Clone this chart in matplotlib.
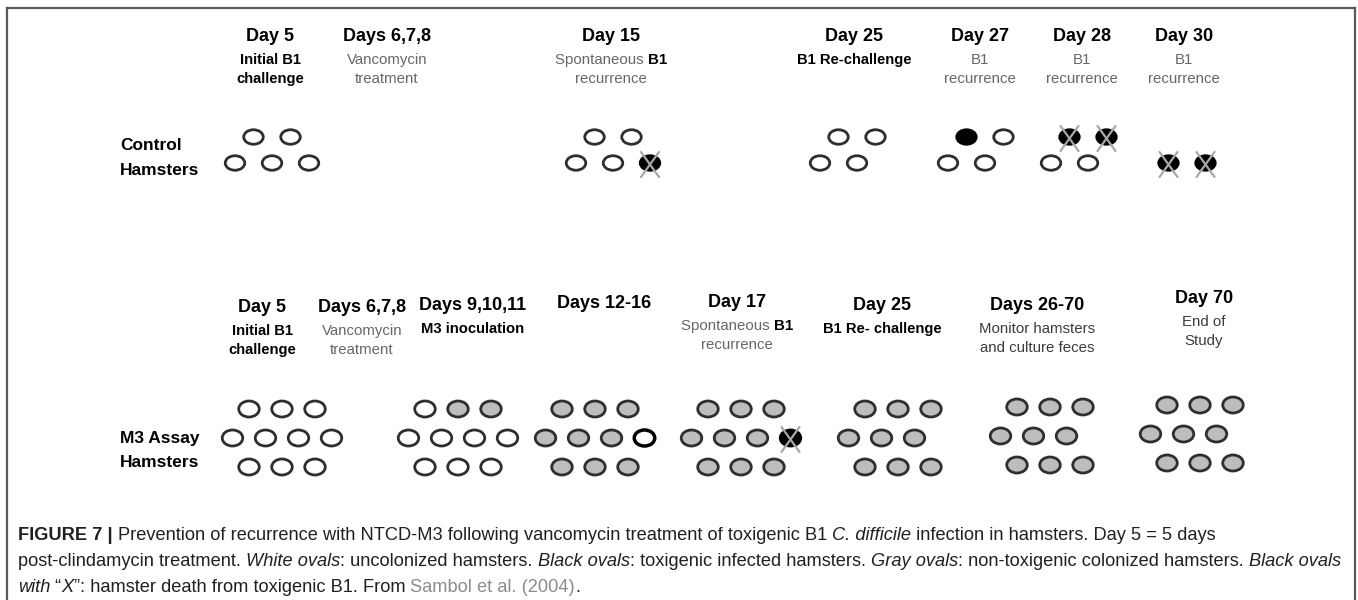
import matplotlib
matplotlib.use("Agg")
import matplotlib.pyplot as plt
from matplotlib.patches import Ellipse
from matplotlib import font_manager
from matplotlib.font_manager import FontProperties

# ---- diagram content -------------------------------------------------------
# hamster states: w = uncolonized, g = non-toxigenic colonized, b = toxigenic
# infected, d = died of toxigenic B1, W = white with heavy rim, None = gap
control_titles = ["Day 5", "Days 6,7,8", "Day 15", "Day 25", "Day 27", "Day 28", "Day 30"]
control_notes = [
    [[("Initial B1", "k")], [("challenge", "k")]],
    [[("Vancomycin", "g")], [("treatment", "g")]],
    [[("Spontaneous ", "g"), ("B1", "k")], [("recurrence", "g")]],
    [[("B1 Re-challenge", "k")]],
    [[("B1", "g")], [("recurrence", "g")]],
    [[("B1", "g")], [("recurrence", "g")]],
    [[("B1", "g")], [("recurrence", "g")]],
]
control_herds = [
    [["w", "w"], ["w", "w", "w"]],
    None,
    [["w", "w"], ["w", "w", "d"]],
    [["w", "w"], ["w", "w", None]],
    [["b", "w"], ["w", "w", None]],
    [["d", "d"], ["w", "w", None]],
    [[], ["d", "d"]],
]

m3_titles = ["Day 5", "Days 6,7,8", "Days 9,10,11", "Days 12-16", "Day 17",
             "Day 25", "Days 26-70", "Day 70"]
m3_notes = [
    [[("Initial B1", "k")], [("challenge", "k")]],
    [[("Vancomycin", "g")], [("treatment", "g")]],
    [[("M3 inoculation", "k")]],
    [],
    [[("Spontaneous ", "g"), ("B1", "k")], [("recurrence", "g")]],
    [[("B1 Re- challenge", "k")]],
    [[("Monitor hamsters", "d")], [("and culture feces", "d")]],
    [[("End of", "d")], [("Study", "d")]],
]
m3_herds = [
    [["w", "w", "w"], ["w", "w", "w", "w"], ["w", "w", "w"]],
    None,
    [["w", "g", "g"], ["w", "w", "w", "w"], ["w", "w", "w"]],
    [["g", "g", "g"], ["g", "g", "g", "W"], ["g", "g", "g"]],
    [["g", "g", "g"], ["g", "g", "g", "d"], ["g", "g", "g"]],
    [["g", "g", "g"], ["g", "g", "g", None], ["g", "g", "g"]],
    [["g", "g", "g"], ["g", "g", "g", None], ["g", "g", "g"]],
    [["g", "g", "g"], ["g", "g", "g", None], ["g", "g", "g"]],
]

caption = [
    [("FIGURE 7 | ", "b"),
     ("Prevention of recurrence with NTCD-M3 following vancomycin treatment of toxigenic B1 ", "n"),
     ("C. difficile", "i"), (" infection in hamsters. Day 5 = 5 days", "n")],
    [("post-clindamycin treatment. ", "n"), ("White ovals", "i"),
     (": uncolonized hamsters. ", "n"), ("Black ovals", "i"),
     (": toxigenic infected hamsters. ", "n"), ("Gray ovals", "i"),
     (": non-toxigenic colonized hamsters. ", "n"), ("Black ovals", "i")],
    [("with", "i"), (" \u201c", "n"), ("X", "i"),
     ("\u201d: hamster death from toxigenic B1. From ", "n"),
     ("Sambol et al. (2004)", "l"), (".", "n")],
]

# ---- layout ----------------------------------------------------------------
W, H = 1358, 600
control_title_x = [270, 387, 611, 854, 980, 1082, 1184]
control_herd_x = [272, None, 613, 857, 985, 1088, 1187]
control_rows_y = [137, 163]
m3_title_x = [262, 362, 473, 604, 737, 882, 1037, 1204]
m3_title_y = [312, 312, 310, 308, 307, 310, 310, 303]
m3_herd_x = [282, None, 458, 595, 741, 898, 1050, 1200]
m3_herd_dy = [0, 0, 0, 0, 0, 0, -2, -4]
m3_rows_y = [409, 438, 467]

FAM = ["Liberation Sans", "DejaVu Sans"]
try:
    font_manager.findfont(FontProperties(family="Liberation Sans Narrow"),
                          fallback_to_default=False)
    CAP_FAM = ["Liberation Sans Narrow", "DejaVu Sans"]
except Exception:
    CAP_FAM = FAM

STY = {
    "k": dict(weight="bold", color="black"),
    "g": dict(color="#676767"),
    "d": dict(color="#3c3c3c"),
    "n": dict(color="#231f20"),
    "i": dict(style="italic", color="#231f20"),
    "b": dict(weight="bold", color="#231f20"),
    "l": dict(color="#8c8c8c"),
}

fig = plt.figure(figsize=(W / 100, H / 100), dpi=100)
ax = fig.add_axes([0, 0, 1, 1])
ax.set_xlim(0, W)
ax.set_ylim(H, 0)
ax.axis("off")
renderer = fig.canvas.get_renderer()


def adv(s, **kw):
    t1 = ax.text(0, 0, "|" + s + "|", **kw)
    t2 = ax.text(0, 0, "||", **kw)
    w = t1.get_window_extent(renderer).width - t2.get_window_extent(renderer).width
    t1.remove()
    t2.remove()
    return w


def rich(x, y, segs, size, family, ha="center", draw=True):
    kws = [dict(fontsize=size, family=family, **STY[tag]) for _, tag in segs]
    ws = [adv(s, **kw) for (s, _), kw in zip(segs, kws)]
    if not draw:
        return sum(ws)
    x0 = x - sum(ws) / 2 if ha == "center" else x
    for (s, _), kw, w in zip(segs, kws, ws):
        ax.text(x0, y, s, ha="left", va="baseline", **kw)
        x0 += w
    return sum(ws)


def oval(x, y, state, w, h):
    face = {"w": "white", "W": "white", "g": "#bdbdbd", "b": "black", "d": "black"}[state]
    edge, lw = ("black", 2.5) if state == "W" else ("#2e2e2e", 2.0)
    if state in "bd":
        edge = "black"
    ax.add_patch(Ellipse((x, y), w, h, facecolor=face, edgecolor=edge, lw=lw, zorder=3))
    if state == "d":
        kw = dict(color="#a8a8a8", lw=1.6, zorder=4, solid_capstyle="round")
        ax.plot([x - 9, x + 9], [y - 11, y + 14], **kw)
        ax.plot([x + 9, x - 9], [y - 11, y + 14], **kw)


def herd(cx, rows_y, rows, spacing, w, h):
    for y, row in zip(rows_y, rows):
        n = len(row)
        for i, state in enumerate(row):
            if state is not None:
                oval(cx + (i - (n - 1) / 2) * spacing, y, state, w, h)


def stage_text(x, y, title, notes):
    ax.text(x, y, title, ha="center", va="baseline", fontsize=13,
            weight="bold", family=FAM, color="black")
    for k, line in enumerate(notes):
        size = 10.6 if line[0][1] == "k" else 10.8
        rich(x, y + 23 + 19 * k, line, size, FAM)


# frame
frame = dict(color="#5a5a5a", lw=1.6)
ax.plot([7, 1355], [8, 8], **frame)
ax.plot([7, 7], [8, 600], **frame)
ax.plot([1355, 1355], [8, 600], **frame)

# control hamsters
for x, hx, t, notes, hd in zip(control_title_x, control_herd_x, control_titles,
                                control_notes, control_herds):
    stage_text(x, 41, t, notes)
    if hd is not None:
        herd(hx, control_rows_y, hd, 37, 19.5, 14.5)
ax.text(120, 150, "Control", fontsize=12.5, weight="bold", family=FAM)
ax.text(120, 175, "Hamsters", fontsize=12.5, weight="bold", family=FAM)

# M3 assay hamsters
for x, ty, hx, dy, t, notes, hd in zip(m3_title_x, m3_title_y, m3_herd_x, m3_herd_dy,
                                       m3_titles, m3_notes, m3_herds):
    stage_text(x, ty, t, notes)
    if hd is not None:
        herd(hx, [y + dy for y in m3_rows_y], hd, 33, 20.5, 16)
ax.text(120, 443, "M3 Assay", fontsize=12.5, weight="bold", family=FAM)
ax.text(120, 467, "Hamsters", fontsize=12.5, weight="bold", family=FAM)

# caption, sized so the first line spans the same width as the original
base = 11
w1 = rich(18, 0, caption[0], base, CAP_FAM, draw=False)
cap_size = base * 1194 / w1
for line, y in zip(caption, [540, 566, 592]):
    rich(18, y, line, cap_size, CAP_FAM, ha="left")

fig.savefig("out.png", dpi=100)
